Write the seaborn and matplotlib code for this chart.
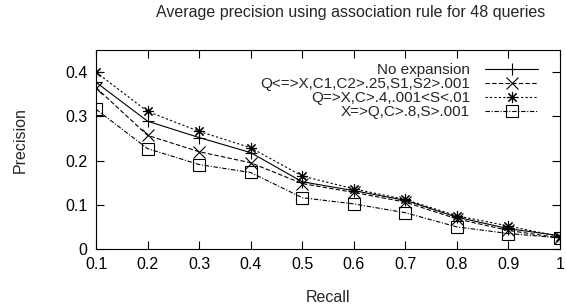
import matplotlib
matplotlib.use("Agg")
import matplotlib.pyplot as plt
import seaborn as sns
import pandas as pd

sns.set_style("ticks")
plt.rcParams['font.family'] = ['Liberation Sans', 'DejaVu Sans']

# data
recall = [0.1, 0.2, 0.3, 0.4, 0.5, 0.6, 0.7, 0.8, 0.9, 1.0]
no_expansion = [0.377, 0.289, 0.252, 0.218, 0.152, 0.132, 0.110, 0.072, 0.046, 0.030]
rule_both = [0.365, 0.257, 0.220, 0.195, 0.148, 0.128, 0.106, 0.068, 0.042, 0.025]
rule_q_to_x = [0.400, 0.311, 0.266, 0.229, 0.165, 0.136, 0.112, 0.075, 0.052, 0.028]
rule_x_to_q = [0.316, 0.227, 0.191, 0.173, 0.116, 0.102, 0.082, 0.050, 0.035, 0.025]

labels = ["No expansion", "Q<=>X,C1,C2>.25,S1,S2>.001",
          "Q=>X,C>.4,.001<S<.01", "X=>Q,C>.8,S>.001"]
series = [no_expansion, rule_both, rule_q_to_x, rule_x_to_q]

df = pd.DataFrame({
    "Recall": recall * 4,
    "Precision": sum(series, []),
    "run": sum([[l] * len(recall) for l in labels], []),
})

# gnuplot-ish look
markers = ["+", "x", (8, 2, 0), "s"]
styles = ["-", (0, (4, 2)), (0, (2, 2)), (0, (4, 1.5, 1, 1.5))]

fig, ax = plt.subplots(figsize=(5.66, 3.06), dpi=100)
for lab, m, ls in zip(labels, markers, styles):
    sub = df[df.run == lab]
    sns.lineplot(data=sub, x="Recall", y="Precision", ax=ax, color="black",
                 lw=0.8, linestyle=ls, marker=m, markersize=8,
                 markerfacecolor="none", markeredgecolor="black",
                 markeredgewidth=0.8, label=lab, errorbar=None)

ax.set_xlim(0.1, 1.0)
ax.set_ylim(0, 0.45)
ax.set_xticks(recall)
ax.set_xticklabels(["0.1", "0.2", "0.3", "0.4", "0.5", "0.6", "0.7", "0.8", "0.9", "1"])
ax.set_yticks([0, 0.1, 0.2, 0.3, 0.4])
ax.set_yticklabels(["0", "0.1", "0.2", "0.3", "0.4"])
ax.tick_params(direction="in", top=True, right=True, length=6, width=0.8,
               labelsize=11.5, colors="black", pad=6)
for s in ax.spines.values():
    s.set_linewidth(0.8)
    s.set_color("black")

ax.set_xlabel("")
ax.set_ylabel("")
fig.text(328 / 566, 1 - 298 / 306, "Recall", fontsize=11.5, ha="center", va="center")
fig.text(20 / 566, 1 - 140 / 306, "Precision", fontsize=11.5, rotation=90,
         ha="center", va="center")
fig.text(351 / 566, 1 - 13 / 306,
         "Average precision using association rule for 48 queries",
         fontsize=11.5, ha="center", va="center")

leg = ax.legend(loc="upper right", bbox_to_anchor=(0.953, 0.935),
                frameon=False, markerfirst=False,
                fontsize=11, handlelength=3.45, handletextpad=1.0,
                labelspacing=0.0, borderaxespad=0, borderpad=0)
for t in leg.get_texts():
    t.set_ha("right")
leg._legend_box.align = "right"

fig.subplots_adjust(left=96 / 566, right=560 / 566, top=1 - 50 / 306, bottom=1 - 249 / 306)
fig.savefig("out.png", dpi=100)
